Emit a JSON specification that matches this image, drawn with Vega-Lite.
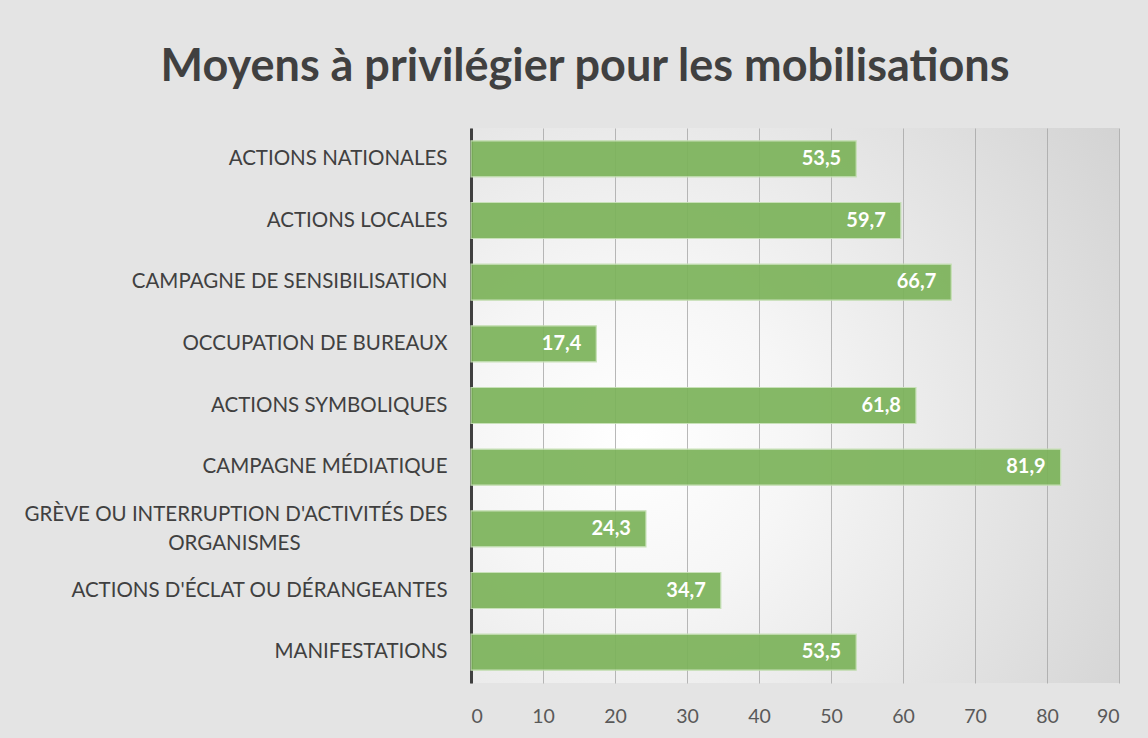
{
  "$schema": "https://vega.github.io/schema/vega-lite/v6.json",
  "width": 648,
  "height": 555,
  "autosize": {"type": "none"},
  "padding": {"left": 471, "top": 128, "right": 29, "bottom": 55},
  "background": "#e4e4e4",
  "title": {
    "text": "Moyens à privilégier pour les mobilisations",
    "font": "Lato",
    "fontSize": 45,
    "fontWeight": "bold",
    "color": "#404040",
    "anchor": "middle",
    "frame": "group",
    "baseline": "alphabetic",
    "dx": -210,
    "offset": 2
  },
  "data": {
    "values": [
      {"moyen": "ACTIONS NATIONALES", "pct": 53.5},
      {"moyen": "ACTIONS LOCALES", "pct": 59.7},
      {"moyen": "CAMPAGNE DE SENSIBILISATION", "pct": 66.7},
      {"moyen": "OCCUPATION DE BUREAUX", "pct": 17.4},
      {"moyen": "ACTIONS SYMBOLIQUES", "pct": 61.8},
      {"moyen": "CAMPAGNE MÉDIATIQUE", "pct": 81.9},
      {"moyen": "GRÈVE OU INTERRUPTION D'ACTIVITÉS DES ORGANISMES", "pct": 24.3},
      {"moyen": "ACTIONS D'ÉCLAT OU DÉRANGEANTES", "pct": 34.7},
      {"moyen": "MANIFESTATIONS", "pct": 53.5}
    ]
  },
  "encoding": {
    "y": {
      "field": "moyen",
      "type": "nominal",
      "sort": null,
      "scale": {"paddingInner": 0.416, "paddingOuter": 0.208},
      "axis": {
        "title": null,
        "ticks": false,
        "grid": false,
        "domainColor": "#404040",
        "domainWidth": 3,
        "labelPadding": 24,
        "labelFont": "Lato",
        "labelFontSize": 20.5,
        "labelColor": "#404040",
        "labelLimit": 600,
        "labelLineHeight": 29,
        "labelOffset": {"condition": {"test": "indexof(datum.value, 'ORGANISMES') > 0", "value": -14}, "value": 0},
        "labelExpr": "indexof(datum.value, 'ORGANISMES') > 0 ? [replace(datum.value, ' ORGANISMES', ''), 'ORGANISMES\u00a0\u00a0\u00a0\u00a0\u00a0\u00a0\u00a0\u00a0\u00a0\u00a0\u00a0\u00a0\u00a0\u00a0\u00a0\u00a0\u00a0\u00a0\u00a0\u00a0\u00a0\u00a0\u00a0\u00a0\u00a0\u00a0\u00a0\u00a0\u200c'] : datum.value"
      }
    },
    "x": {
      "field": "pct",
      "type": "quantitative",
      "scale": {"domain": [0, 90], "nice": false},
      "axis": {
        "title": null,
        "domain": false,
        "ticks": false,
        "grid": true,
        "gridColor": "#a6a6a6",
        "gridOpacity": 0.8,
        "values": [0, 10, 20, 30, 40, 50, 60, 70, 80, 90],
        "labelPadding": 24,
        "labelFont": "Lato",
        "labelFontSize": 19.5,
        "labelColor": "#595959"
      }
    }
  },
  "layer": [
    {
      "mark": {
        "type": "bar",
        "color": "#7cb35a",
        "opacity": 0.92,
        "stroke": "#c5e0b4",
        "strokeWidth": 1.2
      }
    },
    {
      "mark": {
        "type": "text",
        "align": "right",
        "baseline": "middle",
        "dx": -15,
        "font": "Lato",
        "fontSize": 20,
        "fontWeight": "bold",
        "color": "#ffffff"
      },
      "encoding": {
        "text": {"field": "pct", "type": "quantitative", "format": ".1f"}
      }
    }
  ],
  "config": {
    "locale": {
      "number": {"decimal": ",", "thousands": " ", "grouping": [3], "currency": ["", " €"]}
    },
    "view": {
      "stroke": null,
      "fill": {
        "gradient": "radial",
        "x1": 0.25, "y1": 0.55, "r1": 0,
        "x2": 0.25, "y2": 0.55, "r2": 1.0,
        "stops": [
          {"offset": 0, "color": "#ffffff"},
          {"offset": 0.25, "color": "#f6f6f6"},
          {"offset": 1, "color": "#cdcdcd"}
        ]
      }
    }
  }
}
